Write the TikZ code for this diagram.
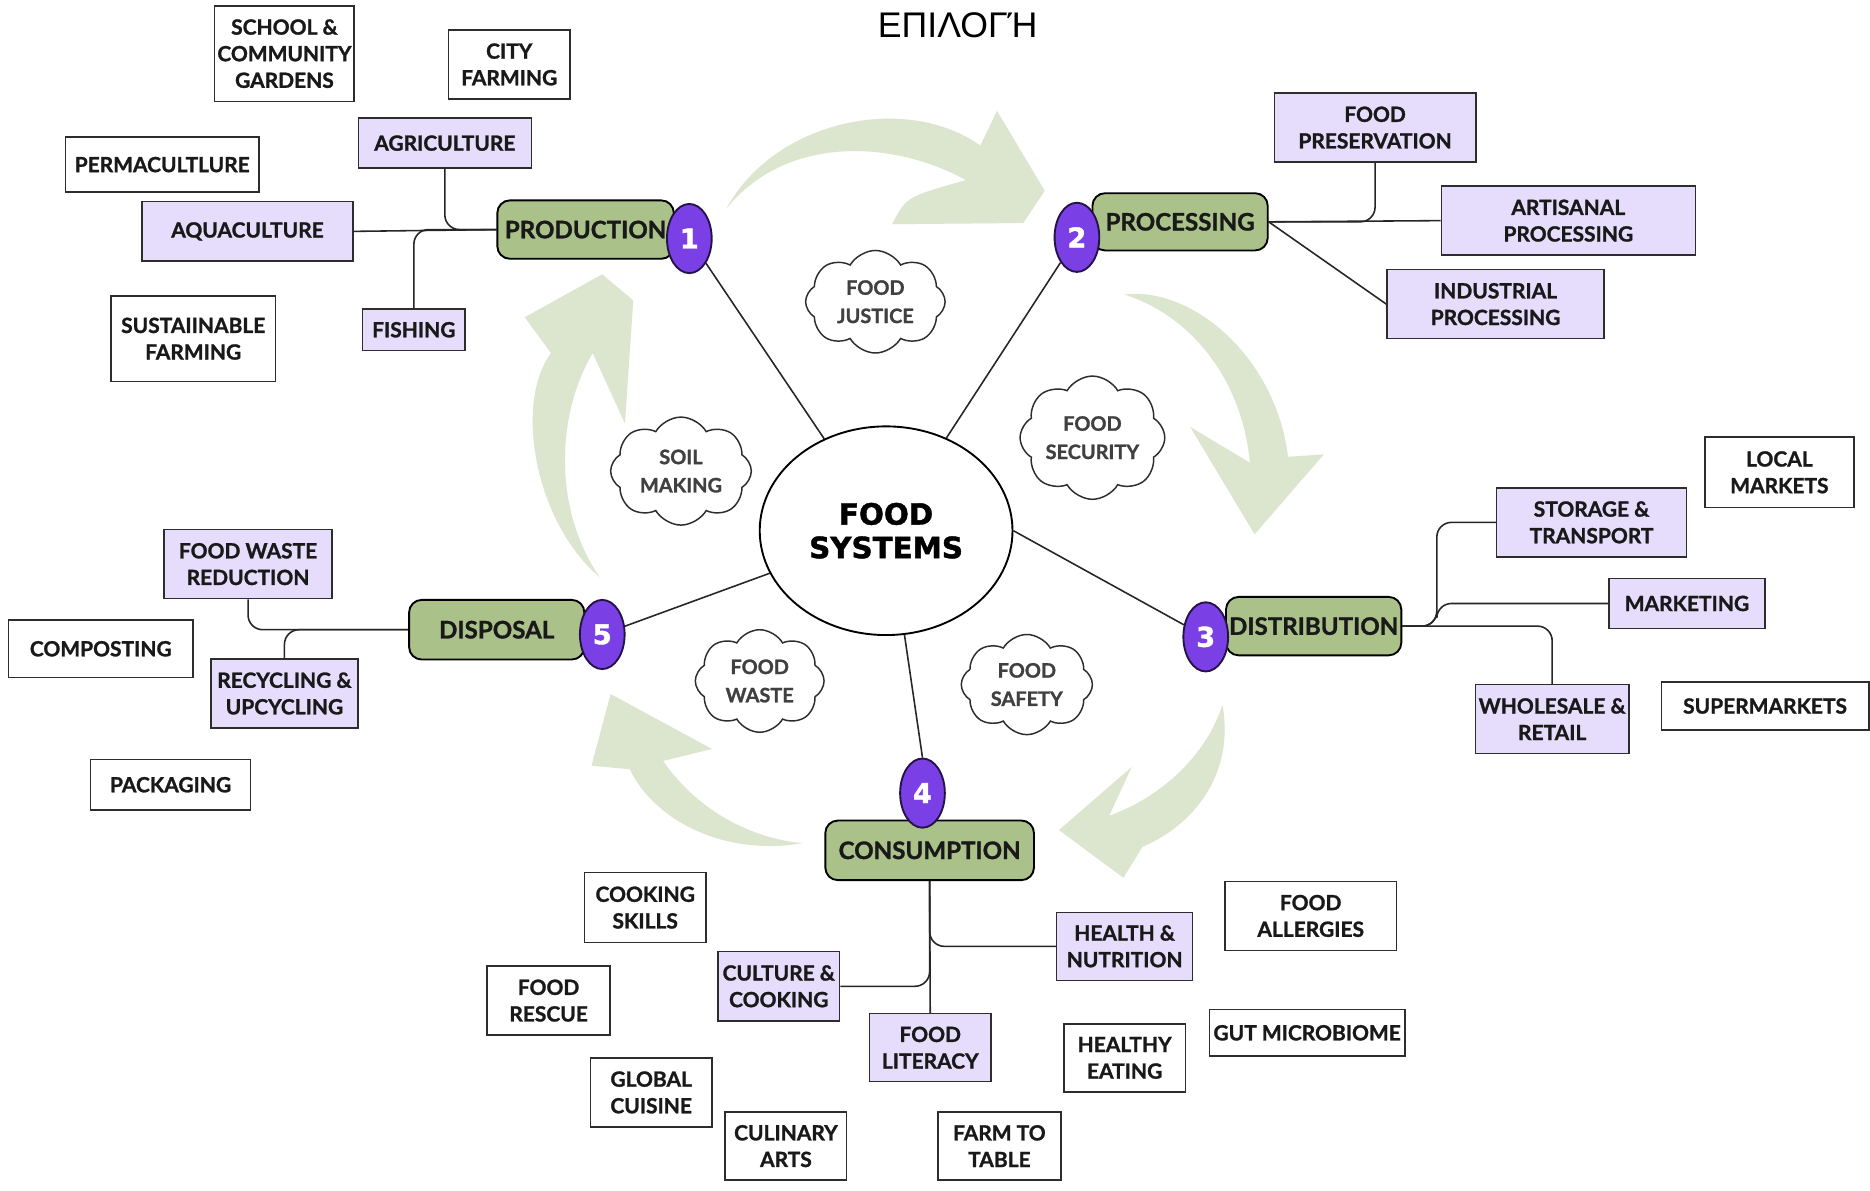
\documentclass[tikz,border=0pt]{standalone}
\usepackage{fontspec}
\setmainfont{Lato}[BoldFeatures={FakeBold=1.2}]
\newfontfamily\titlefont{Liberation Sans}
\newfontfamily\hubfont{DejaVu Sans}[BoldFeatures={FakeBold=1.5}]
\usetikzlibrary{shapes.geometric,shapes.symbols,backgrounds}

\definecolor{pfeilgruen}{RGB}{220,229,206}
\definecolor{kategorie}{RGB}{170,193,137}
\definecolor{lila}{RGB}{229,221,251}
\definecolor{nummer}{RGB}{122,64,230}
\definecolor{rand}{RGB}{45,45,45}

\begin{document}
\begin{tikzpicture}[x=0.02cm, y=-0.02cm,
    every node/.style={font=\bfseries\fontsize{10}{12.7}\selectfont, align=center, inner sep=0pt, text=black!90},
    weiss/.style={draw=rand, line width=0.7pt, fill=white},
    thema/.style={draw=rand, line width=0.7pt, fill=lila},
    kat/.style={draw=black, line width=0.9pt, fill=kategorie, rounded corners=6pt, font=\bfseries\fontsize{11.5}{13}\selectfont},
    nr/.style={ellipse, draw=black!70!nummer, line width=0.9pt, fill=nummer, text=white, minimum width=0.75cm, minimum height=1.16cm, font=\hubfont\bfseries\fontsize{13}{13}\selectfont},
    wolke/.style={cloud, cloud puffs=8, cloud puff arc=120, aspect=1.3, draw=rand, line width=0.7pt, fill=white, text=black!75, font=\bfseries\fontsize{9.5}{13.5}\selectfont},
    linie/.style={line width=0.75pt, black!85},
    ast/.style={linie, rounded corners=7pt}]

    \useasboundingbox (0,0) rectangle (1568,998);

    % Titel
    \node[font=\titlefont\fontsize{17}{17}\selectfont, text=black] (titel) at (803,21) {ΕΠΙΛΟΓΉ};

    % Mitte
    \node[ellipse, draw=black, line width=0.9pt, fill=white, minimum width=4.24cm, minimum height=3.5cm,
          font=\hubfont\bfseries\fontsize{14}{16}\selectfont, text=black] (fs) at (743,445) {FOOD\\SYSTEMS};

    % Kategorien mit Nummern
    \node[kat, minimum width=2.96cm, minimum height=0.98cm] (prod) at (491,192.5) {PRODUCTION};
    \node[nr] (o1) at (578,200) {1};
    \node[kat, minimum width=2.94cm, minimum height=0.96cm] (proc) at (989.5,186) {PROCESSING};
    \node[nr] (o2) at (903,199) {2};
    \node[kat, minimum width=2.94cm, minimum height=0.98cm] (dist) at (1101.5,525) {DISTRIBUTION};
    \node[nr] (o3) at (1011,534) {3};
    \node[kat, minimum width=3.5cm, minimum height=1cm] (cons) at (779.5,713) {CONSUMPTION};
    \node[nr] (o4) at (773.5,665) {4};
    \node[kat, minimum width=2.94cm, minimum height=1cm] (disp) at (416.5,528) {DISPOSAL};
    \node[nr] (o5) at (505,532) {5};

    % Wolken
    \node[wolke, minimum width=2.34cm, minimum height=1.72cm] (justice) at (734,253) {FOOD\\JUSTICE};
    \node[wolke, minimum width=2.4cm, minimum height=1.78cm] (security) at (916,367) {FOOD\\SECURITY};
    \node[wolke, minimum width=2.36cm, minimum height=1.72cm] (soil) at (571,395) {SOIL\\MAKING};
    \node[wolke, minimum width=2.16cm, minimum height=1.72cm] (waste) at (637,571) {FOOD\\WASTE};
    \node[wolke, minimum width=2.2cm, minimum height=1.68cm] (safety) at (861,574) {FOOD\\SAFETY};

    % Themen (lila)
    \node[thema, minimum width=2.9cm, minimum height=0.84cm] (agri) at (373,120) {AGRICULTURE};
    \node[thema, minimum width=3.54cm, minimum height=1cm] (aqua) at (207.5,194) {AQUACULTURE};
    \node[thema, minimum width=1.72cm, minimum height=0.7cm] (fish) at (347,276.5) {FISHING};
    \node[thema, minimum width=3.38cm, minimum height=1.16cm] (pres) at (1153,107) {FOOD\\PRESERVATION};
    \node[thema, minimum width=4.26cm, minimum height=1.16cm] (arti) at (1315,185) {ARTISANAL\\PROCESSING};
    \node[thema, minimum width=3.64cm, minimum height=1.16cm] (indus) at (1254,255) {INDUSTRIAL\\PROCESSING};
    \node[thema, minimum width=3.18cm, minimum height=1.16cm] (stor) at (1334.5,438) {STORAGE \&\\TRANSPORT};
    \node[thema, minimum width=2.62cm, minimum height=0.84cm] (mark) at (1414.5,506) {MARKETING};
    \node[thema, minimum width=2.58cm, minimum height=1.16cm] (whole) at (1301.5,603) {WHOLESALE \&\\RETAIL};
    \node[thema, minimum width=2.82cm, minimum height=1.16cm] (fwr) at (208,473) {FOOD WASTE\\REDUCTION};
    \node[thema, minimum width=2.46cm, minimum height=1.16cm] (recyc) at (238.5,581.5) {RECYCLING \&\\UPCYCLING};
    \node[thema, minimum width=2.04cm, minimum height=1.16cm] (cult) at (653,827) {CULTURE \&\\COOKING};
    \node[thema, minimum width=2.04cm, minimum height=1.14cm] (lit) at (780,878.5) {FOOD\\LITERACY};
    \node[thema, minimum width=2.28cm, minimum height=1.14cm] (health) at (943,793.5) {HEALTH \&\\NUTRITION};

    % freie Kaesten (weiss)
    \node[weiss, minimum width=2.34cm, minimum height=1.6cm] (school) at (238.5,45) {SCHOOL \&\\COMMUNITY\\GARDENS};
    \node[weiss, minimum width=2.04cm, minimum height=1.16cm] (city) at (427,54) {CITY\\FARMING};
    \node[weiss, minimum width=3.24cm, minimum height=0.92cm] (perma) at (136,138) {PERMACULTLURE};
    \node[weiss, minimum width=2.76cm, minimum height=1.44cm] (sustain) at (162,284) {SUSTAIINABLE\\FARMING};
    \node[weiss, minimum width=2.5cm, minimum height=1.18cm] (local) at (1492,396) {LOCAL\\MARKETS};
    \node[weiss, minimum width=3.48cm, minimum height=0.8cm] (super) at (1480,592) {SUPERMARKETS};
    \node[weiss, minimum width=3.1cm, minimum height=0.96cm] (compost) at (84.5,544) {COMPOSTING};
    \node[weiss, minimum width=2.68cm, minimum height=0.84cm] (pack) at (143,658) {PACKAGING};
    \node[weiss, minimum width=2.04cm, minimum height=1.18cm] (skills) at (541,761) {COOKING\\SKILLS};
    \node[weiss, minimum width=2.06cm, minimum height=1.16cm] (rescue) at (460,839) {FOOD\\RESCUE};
    \node[weiss, minimum width=2.04cm, minimum height=1.16cm] (global) at (546,916) {GLOBAL\\CUISINE};
    \node[weiss, minimum width=2.04cm, minimum height=1.14cm] (culinary) at (659,961) {CULINARY\\ARTS};
    \node[weiss, minimum width=2.06cm, minimum height=1.14cm] (farm) at (838,961) {FARM TO\\TABLE};
    \node[weiss, minimum width=2.88cm, minimum height=1.16cm] (allergy) at (1099,768) {FOOD\\ALLERGIES};
    \node[weiss, minimum width=3.28cm, minimum height=0.78cm] (gut) at (1096,866) {GUT MICROBIOME};
    \node[weiss, minimum width=2.04cm, minimum height=1.14cm] (eating) at (943,887) {HEALTHY\\EATING};

    \begin{scope}[on background layer]
        \fill[white] (0,0) rectangle (1568,998);

        % Pfeile (Kreislauf)
        \fill[pfeilgruen] (609,175) .. controls (650,100) and (760,78) .. (822,122) -- (836,93) -- (876,160)
            -- (858,187) -- (748,188) .. controls (760,165) .. (810,151)
            .. controls (750,118) and (660,112) .. (609,175) -- cycle;
        \fill[pfeilgruen] (943,247) .. controls (1000,240) and (1070,300) .. (1080,383) -- (1110,381)
            -- (1052,448) -- (998,358) -- (1048,388) .. controls (1042,320) and (1000,265) .. (943,247) -- cycle;
        \fill[pfeilgruen] (1025,591) .. controls (1035,645) and (1005,690) .. (958,710) -- (942,736)
            -- (888,696) -- (949,643) -- (930,684) .. controls (975,668) and (1012,632) .. (1025,591) -- cycle;
        \fill[pfeilgruen] (673,707) .. controls (610,718) and (550,690) .. (528,645) -- (496,642)
            -- (512,582) -- (597,628) -- (556,638) .. controls (585,680) and (630,703) .. (673,707) -- cycle;
        \fill[pfeilgruen] (503,484) .. controls (450,440) and (430,340) .. (462,296) -- (440,266)
            -- (505,230) -- (531,252) -- (524,355) -- (497,296) .. controls (465,350) and (465,430) .. (503,484) -- cycle;

        % Speichen
        \draw[linie] (fs) -- (o1);
        \draw[linie] (fs) -- (o2);
        \draw[linie] (fs.east) -- (o3);
        \draw[linie] (fs.-80) -- (o4.north);
        \draw[linie] (fs) -- (o5);

        % Aeste
        \draw[ast] (prod.west) -| (agri.south);
        \draw[ast] (prod.west) -| (fish.north);
        \draw[linie] (aqua.east) -- (prod.west);
        \draw[ast] (proc.east) -| (pres.south);
        \draw[linie] (proc.east) -- (arti.west);
        \draw[linie] (proc.east) -- (indus.west);
        \draw[ast] (dist.east) -- ++(29,0) |- (stor.west);
        \draw[ast] (dist.east) -- ++(29,0) |- (mark.west);
        \draw[ast] (dist.east) -| (whole.north);
        \draw[ast] (disp.west) -| (fwr.south);
        \draw[ast] (disp.west) -| (recyc.north);
        \draw[linie] (cons.south) -- (lit.north);
        \draw[ast] (cons.south) |- (health.west);
        \draw[ast] (cons.south) |- (cult.east);
    \end{scope}
\end{tikzpicture}
\end{document}
